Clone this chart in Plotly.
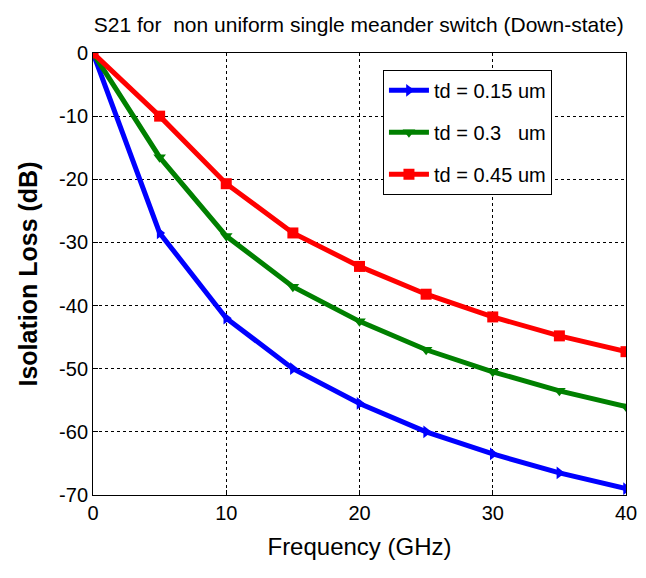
import plotly.graph_objects as go

freq = [0, 5, 10, 15, 20, 25, 30, 35, 40]
td_015 = [0, -28.5, -42, -50, -55.5, -60, -63.5, -66.5, -69]
td_030 = [0, -16.5, -29, -37, -42.5, -47, -50.5, -53.5, -56]
td_045 = [0, -10, -20.7, -28.5, -33.8, -38.2, -41.8, -44.8, -47.3]
names = ["td = 0.15 um", "td = 0.3   um", "td = 0.45 um"]
xticks = [0, 10, 20, 30, 40]
yticks = [0, -10, -20, -30, -40, -50, -60, -70]

font = "Liberation Sans, Arial"

fig = go.Figure()
series = [(td_015, "#0000ff", "triangle-right"),
          (td_030, "#008000", "triangle-down"),
          (td_045, "#ff0000", "square")]
for i, ((ys, col, sym), nm) in enumerate(zip(series, names)):
    fig.add_trace(go.Scatter(x=freq, y=ys, name=nm, mode="lines+markers",
                             legendgroup="g%d" % i,
                             line=dict(color=col, width=5),
                             marker=dict(symbol=sym, size=11, color=col)))

fig.update_layout(
    width=646, height=578,
    paper_bgcolor="white", plot_bgcolor="white",
    margin=dict(l=85, r=28, t=45, b=91),
    font=dict(family=font, color="black", size=19),
    title=dict(text="S21 for  non uniform single meander switch (Down-state)",
               x=0.543, xanchor="center", xref="container",
               y=0.971, yanchor="middle", yref="container",
               font=dict(size=21, family=font)),
    showlegend=True,
    legend=dict(x=0.544, y=0.962, xanchor="left", yanchor="top",
                bgcolor="white", bordercolor="black", borderwidth=1,
                font=dict(size=20, family=font), itemwidth=40,
                traceorder="grouped", tracegroupgap=13),
)
fig.update_xaxes(range=[0, 40], tickvals=xticks, ticktext=[str(v) for v in xticks],
                 showgrid=True, gridcolor="black", griddash="dot", gridwidth=1,
                 showline=True, linecolor="black", linewidth=1, mirror=True,
                 ticks="inside", ticklen=5, tickcolor="black", zeroline=False,
                 tickfont=dict(size=20, family=font),
                 title=dict(text="Frequency (GHz)", font=dict(size=24, family=font), standoff=15))
fig.update_yaxes(range=[-70, 0], tickvals=yticks, ticktext=[str(v) for v in yticks],
                 showgrid=True, gridcolor="black", griddash="dot", gridwidth=1,
                 showline=True, linecolor="black", linewidth=1, mirror=True,
                 ticks="inside", ticklen=5, tickcolor="black", zeroline=False,
                 tickfont=dict(size=20, family=font),
                 title=dict(text="<b>Isolation Loss (dB)</b>", font=dict(size=25, family=font), standoff=14))

fig.write_html("out.html")
